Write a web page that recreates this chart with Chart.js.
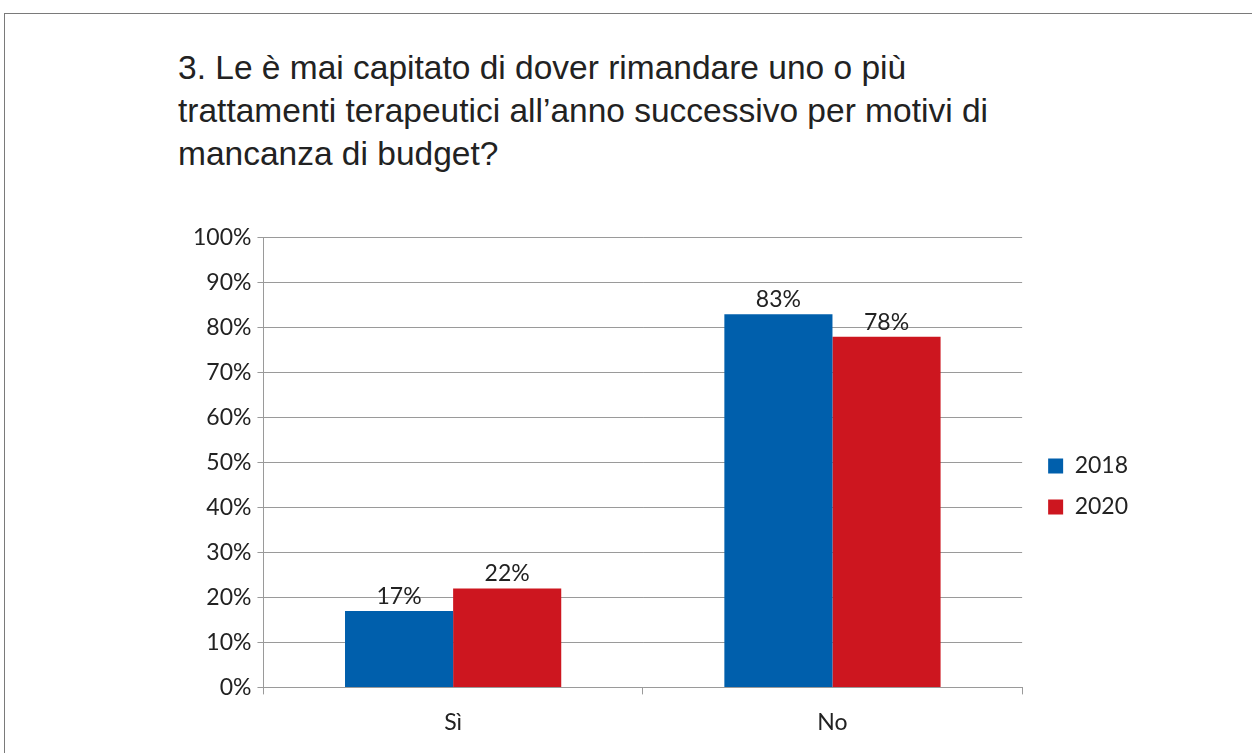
<!DOCTYPE html>
<html>
<head>
<meta charset="utf-8">
<script src="https://cdn.jsdelivr.net/npm/chart.js@4"></script>
<style>
  body { margin: 0; background: #fff; width: 1252px; height: 753px; overflow: hidden; position: relative; }
  #frame { position: absolute; left: 4px; top: 13px; width: 1300px; height: 800px; border: 1px solid #7a7a7a; }
  #title { position: absolute; left: 178px; top: 46px; font-family: "Liberation Sans", Arial, sans-serif; font-size: 33.5px; line-height: 43px; color: #222; }
  #wrap { position: absolute; left: 187px; top: 218px; width: 953px; height: 532px; }
</style>
</head>
<body>
<div id="frame"></div>
<div id="title">3. Le è mai capitato di dover rimandare uno o più<br>trattamenti terapeutici all’anno successivo per motivi di<br>mancanza di budget?</div>
<div id="wrap"><canvas id="myChart"></canvas></div>
<script>
// categories and values (percent)
var categories = ['Sì', 'No'];
var values2018 = [17, 83];
var values2020 = [22, 78];
var seriesNames = ['2018', '2020'];

// draw the value above each bar
var barLabels = {
    id: 'barLabels',
    afterDatasetsDraw: function(chart) {
        var ctx = chart.ctx;
        ctx.save();
        ctx.font = '23px Lato, "Open Sans", sans-serif';
        ctx.fillStyle = '#222';
        ctx.textAlign = 'center';
        ctx.textBaseline = 'bottom';
        chart.data.datasets.forEach(function(ds, i) {
            chart.getDatasetMeta(i).data.forEach(function(bar, j) {
                ctx.fillText(ds.data[j] + '%', bar.x, bar.y - 3);
            });
        });
        ctx.restore();
    }
};

// push the legend a bit further from the plot
var legendShift = {
    id: 'legendShift',
    afterLayout: function(chart) {
        var lg = chart.legend;
        lg.left += 8;
        lg.right += 8;
        lg.legendHitBoxes.forEach(function(h) { h.left += 8; });
    }
};

var ctx = document.getElementById('myChart').getContext('2d');
var myChart = new Chart(ctx, {
    type: 'bar',
    data: {
        labels: categories,
        datasets: [{
            label: seriesNames[0],
            backgroundColor: '#005fac',
            data: values2018
        }, {
            label: seriesNames[1],
            backgroundColor: '#cd161f',
            data: values2020
        }]
    },
    options: {
        responsive: true,
        maintainAspectRatio: false,
        animation: false,
        datasets: {
            bar: { barPercentage: 1, categoryPercentage: 0.57 }
        },
        layout: { padding: { top: 5, right: 10 } },
        plugins: {
            tooltip: { enabled: false },
            legend: {
                position: 'right',
                labels: {
                    boxWidth: 15,
                    boxHeight: 15,
                    padding: 18,
                    color: '#222',
                    font: { size: 23, family: 'Lato, "Open Sans", sans-serif' }
                }
            }
        },
        scales: {
            x: {
                grid: { offset: true, drawOnChartArea: false, tickLength: 7, color: '#9a9a9a' },
                border: { display: false },
                ticks: { color: '#222', padding: 14, font: { size: 23, family: 'Lato, "Open Sans", sans-serif' } }
            },
            y: {
                min: 0,
                max: 100,
                ticks: {
                    stepSize: 10,
                    color: '#222',
                    padding: 6,
                    font: { size: 23, family: 'Lato, "Open Sans", sans-serif' },
                    callback: function(v) { return v + '%'; }
                },
                grid: { color: '#9a9a9a', tickLength: 6 },
                border: { color: '#9a9a9a' }
            }
        }
    },
    plugins: [barLabels, legendShift]
});
</script>
</body>
</html>
